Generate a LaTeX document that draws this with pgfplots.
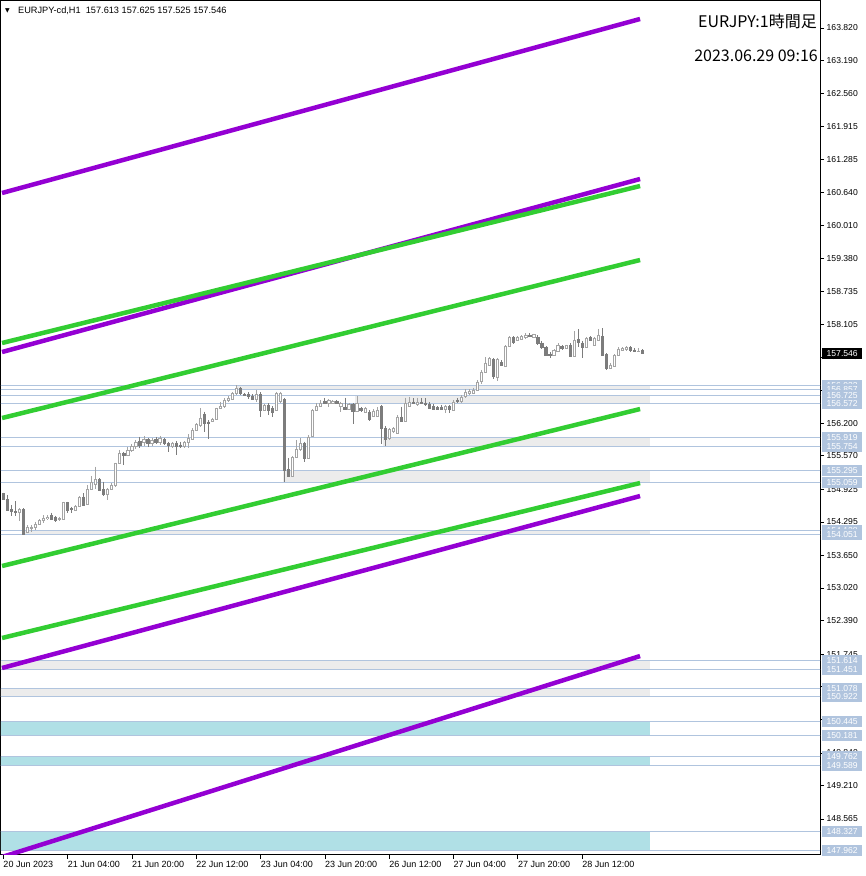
\documentclass[border=0pt]{standalone}
\usepackage{pgfplots}
\pgfplotsset{compat=1.18}
\usepackage{pgfplotstable}
\usepackage{fontspec}
\setmainfont{Liberation Sans}
\newfontfamily\jp{Noto Sans CJK JP}
\newfontfamily\dv{DejaVu Sans}
\definecolor{bullc}{HTML}{A4A4A4}
\definecolor{bearc}{HTML}{7C7C7C}
\definecolor{zgray}{HTML}{ECECEC}
\definecolor{zblue}{HTML}{B0E0E6}
\definecolor{lsb}{HTML}{B0C4DE}
\definecolor{dviolet}{HTML}{9400D3}
\definecolor{lgreen}{HTML}{32CD32}

\pgfplotstableread{
x o h l c
4 154.472 154.557 154.318 154.537
6 154.087 154.229 154.075 154.190
7 154.177 154.235 154.106 154.202
8 154.182 154.298 154.139 154.254
9 154.248 154.350 154.235 154.331
10 154.331 154.428 154.279 154.375
11 154.364 154.428 154.331 154.395
14 154.345 154.395 154.312 154.364
15 154.345 154.684 154.331 154.678
18 154.524 154.621 154.510 154.601
19 154.588 154.794 154.576 154.775
21 154.634 155.007 154.621 154.924
22 154.924 155.180 154.910 155.070
23 155.020 155.360 154.924 155.117
26 154.819 154.943 154.717 154.924
27 154.924 155.039 154.910 155.013
28 154.993 155.437 154.974 155.425
29 155.425 155.682 155.412 155.618
31 155.585 155.740 155.566 155.682
32 155.663 155.798 155.643 155.759
33 155.740 155.875 155.701 155.836
35 155.817 155.952 155.759 155.894
37 155.798 155.914 155.759 155.875
39 155.836 155.952 155.778 155.914
42 155.746 155.842 155.727 155.823
45 155.746 155.856 155.714 155.842
46 155.831 155.985 155.714 155.908
47 155.894 156.100 155.881 156.067
48 156.067 156.197 156.048 156.177
49 156.145 156.486 156.131 156.305
52 156.227 156.305 156.216 156.280
53 156.274 156.498 156.260 156.486
54 156.486 156.613 156.467 156.530
55 156.530 156.685 156.492 156.646
56 156.627 156.723 156.607 156.690
57 156.665 156.800 156.646 156.775
58 156.762 156.933 156.742 156.883
63 156.665 156.839 156.613 156.756
65 156.453 156.569 156.434 156.550
68 156.453 156.806 156.434 156.775
69 156.613 156.806 156.588 156.787
72 155.180 155.566 155.161 155.541
73 155.541 155.875 155.528 155.701
74 155.682 155.908 155.663 155.811
76 155.521 155.971 155.508 155.938
77 155.938 156.472 155.933 156.453
78 156.440 156.582 156.434 156.530
79 156.530 156.646 156.511 156.594
81 156.582 156.660 156.517 156.646
82 156.582 156.646 156.569 156.627
84 156.517 156.613 156.420 156.582
86 156.467 156.588 156.453 156.563
88 156.420 156.725 156.415 156.582
90 156.401 156.511 156.395 156.486
92 156.324 156.472 156.318 156.440
93 156.324 156.511 156.318 156.453
96 155.908 156.106 155.875 156.081
97 156.035 156.125 156.010 156.100
98 156.004 156.357 155.990 156.324
100 156.227 156.690 156.222 156.582
101 156.530 156.710 156.511 156.613
103 156.550 156.685 156.530 156.613
110 156.467 156.550 156.390 156.530
112 156.453 156.646 156.434 156.613
114 156.613 156.742 156.588 156.710
115 156.710 156.852 156.685 156.806
116 156.762 156.858 156.742 156.826
117 156.775 156.878 156.762 156.839
118 156.839 157.032 156.820 157.000
119 157.000 157.225 156.955 157.192
120 157.186 157.476 157.167 157.366
121 157.321 157.476 157.302 157.456
123 157.084 157.456 157.013 157.437
125 157.296 157.706 157.280 157.687
126 157.687 157.880 157.668 157.860
128 157.797 157.880 157.784 157.860
129 157.816 157.899 157.803 157.874
130 157.842 157.938 157.822 157.905
132 157.861 157.928 157.842 157.913
137 157.514 157.629 157.494 157.604
138 157.585 157.739 157.571 157.700
140 157.648 157.716 157.629 157.700
142 157.489 157.970 157.476 157.797
145 157.668 157.861 157.648 157.842
147 157.700 157.870 157.687 157.842
148 157.797 158.020 157.784 157.905
151 157.263 157.360 157.244 157.327
152 157.301 157.533 157.282 157.514
153 157.514 157.668 157.494 157.635
154 157.604 157.668 157.591 157.648
155 157.623 157.687 157.591 157.668
158 157.585 157.649 157.571 157.600
}\bull

\pgfplotstableread{
x o h l c
0 154.846 154.858 154.717 154.731
1 154.731 154.814 154.505 154.524
2 154.537 154.621 154.414 154.491
3 154.505 154.698 154.408 154.472
5 154.537 154.557 154.045 154.060
12 154.428 154.472 154.331 154.350
13 154.395 154.414 154.298 154.318
16 154.678 154.684 154.460 154.524
17 154.557 154.588 154.460 154.537
20 154.781 154.846 154.607 154.621
24 155.123 155.136 154.897 154.910
25 154.929 155.070 154.800 154.819
30 155.618 155.649 155.392 155.585
34 155.856 155.933 155.721 155.778
36 155.894 155.914 155.740 155.798
38 155.894 155.933 155.798 155.836
40 155.889 155.908 155.778 155.798
41 155.817 155.842 155.638 155.765
43 155.823 155.856 155.585 155.759
44 155.784 155.842 155.727 155.759
50 156.370 156.421 156.023 156.197
51 156.227 156.260 155.889 156.197
59 156.872 156.897 156.742 156.762
60 156.762 156.787 156.714 156.729
61 156.756 156.800 156.665 156.710
62 156.723 156.752 156.646 156.665
64 156.756 156.800 156.324 156.453
66 156.550 156.588 156.357 156.453
67 156.486 156.530 156.324 156.409
70 156.665 156.685 155.059 155.296
71 155.310 155.528 155.161 155.180
75 155.823 155.842 155.456 155.521
80 156.627 156.685 156.569 156.582
83 156.627 156.646 156.569 156.582
85 156.517 156.690 156.453 156.467
87 156.563 156.588 156.177 156.420
89 156.486 156.511 156.415 156.440
91 156.420 156.453 156.247 156.274
94 156.536 156.550 155.800 156.100
95 156.100 156.145 155.754 155.889
99 156.324 156.517 156.212 156.227
102 156.613 156.679 156.569 156.582
104 156.613 156.685 156.569 156.582
105 156.594 156.685 156.530 156.550
106 156.563 156.607 156.472 156.486
107 156.530 156.569 156.453 156.467
108 156.505 156.530 156.444 156.467
109 156.517 156.550 156.453 156.467
111 156.536 156.550 156.390 156.467
113 156.646 156.685 156.588 156.613
122 157.431 157.456 157.051 157.103
124 157.379 157.417 157.302 157.321
127 157.860 157.880 157.726 157.751
131 157.905 157.938 157.861 157.874
133 157.861 157.899 157.707 157.732
134 157.751 157.784 157.630 157.655
135 157.668 157.687 157.494 157.514
136 157.540 157.571 157.456 157.514
139 157.681 157.706 157.610 157.635
141 157.713 157.739 157.476 157.489
143 157.816 158.009 157.668 157.751
144 157.751 157.784 157.455 157.668
146 157.861 157.880 157.784 157.797
149 157.880 158.034 157.494 157.514
150 157.526 157.552 157.225 157.256
156 157.668 157.687 157.571 157.604
157 157.616 157.649 157.571 157.585
159 157.613 157.625 157.525 157.546
}\bear

\begin{document}
\begin{tikzpicture}
\begin{axis}[
  at={(1pt,21pt)}, anchor=south west, scale only axis,
  width=819pt, height=854pt,
  xmin=-0.572, xmax=203.16, ymin=147.871, ymax=164.341,
  axis line style={black, line width=1pt},
  tick align=outside, major tick length=4pt,
  tick style={black, line width=0.8pt},
  ytick pos=right, yticklabel pos=right,
  xtick pos=left, xticklabel pos=left,
  scaled y ticks=false, scaled x ticks=false,
  ytick={163.820,163.190,162.560,161.915,161.285,160.640,160.010,159.380,158.735,158.105,157.475,156.830,156.200,155.570,154.925,154.295,153.650,153.020,152.390,151.745,151.115,150.485,149.840,149.210,148.565},
  yticklabels={163.820,163.190,162.560,161.915,161.285,160.640,160.010,159.380,158.735,158.105,157.475,156.830,156.200,155.570,154.925,154.295,153.650,153.020,152.390,151.745,151.115,150.485,149.840,149.210,148.565},
  yticklabel style={font=\fontsize{8.6}{9}\selectfont, anchor=west, inner sep=0pt, xshift=2.5pt},
  xtick={0,16,32,48,64,80,96,112,128,144},
  xticklabels={20 Jun 2023,21 Jun 04:00,21 Jun 20:00,22 Jun 12:00,23 Jun 04:00,23 Jun 20:00,26 Jun 12:00,27 Jun 04:00,27 Jun 20:00,28 Jun 12:00},
  xticklabel style={font=\fontsize{9}{10}\selectfont, anchor=north west, inner sep=0pt, yshift=-2pt},
  candle/.style={draw=none, mark=none, forget plot, error bars/.cd, y dir=minus, y explicit, error mark=none},
]
% zones
\addplot[draw=none, fill=zgray, forget plot] coordinates {(58,156.857) (160.9,156.857) (160.9,156.933) (58,156.933)};
\addplot[draw=none, fill=zgray, forget plot] coordinates {(87.5,156.572) (160.9,156.572) (160.9,156.725) (87.5,156.725)};
\addplot[draw=none, fill=zgray, forget plot] coordinates {(94.5,155.754) (160.9,155.754) (160.9,155.919) (94.5,155.919)};
\addplot[draw=none, fill=zgray, forget plot] coordinates {(69.6,155.059) (160.9,155.059) (160.9,155.295) (69.6,155.295)};
\addplot[draw=none, fill=zgray, forget plot] coordinates {(4.9,154.051) (160.9,154.051) (160.9,154.128) (4.9,154.128)};
\addplot[draw=none, fill=zgray, forget plot] coordinates {(-1,151.451) (160.9,151.451) (160.9,151.614) (-1,151.614)};
\addplot[draw=none, fill=zgray, forget plot] coordinates {(-1,150.922) (160.9,150.922) (160.9,151.078) (-1,151.078)};
\addplot[draw=none, fill=zblue, forget plot] coordinates {(-1,150.181) (160.9,150.181) (160.9,150.445) (-1,150.445)};
\addplot[draw=none, fill=zblue, forget plot] coordinates {(-1,149.589) (160.9,149.589) (160.9,149.762) (-1,149.762)};
\addplot[draw=none, fill=zblue, forget plot] coordinates {(-1,147.962) (160.9,147.962) (160.9,148.327) (-1,148.327)};
% support / resistance lines
\pgfplotsinvokeforeach{156.933,156.857,156.725,156.572,155.919,155.754,155.295,155.059,154.128,154.051,151.614,151.451,151.078,150.922,150.445,150.181,149.762,149.589,148.327,147.962}{
  \addplot[lsb, line width=1pt, forget plot] coordinates {(-1,#1) (205,#1)};
}
% channel lines
\addplot[dviolet, line width=4.5pt, forget plot] coordinates {(-0.32,160.638) (158.4,163.994)};
\addplot[dviolet, line width=4.5pt, forget plot] coordinates {(-0.32,157.571) (158.4,160.908)};
\addplot[dviolet, line width=4.5pt, forget plot] coordinates {(-0.32,151.477) (158.4,154.794)};
\addplot[dviolet, line width=4.5pt, forget plot] coordinates {(-0.32,147.832) (158.4,151.708)};
\addplot[lgreen, line width=4.5pt, forget plot] coordinates {(-0.32,157.745) (158.4,160.773)};
\addplot[lgreen, line width=4.5pt, forget plot] coordinates {(-0.32,156.298) (158.4,159.346)};
\addplot[lgreen, line width=4.5pt, forget plot] coordinates {(-0.32,153.444) (158.4,156.472)};
\addplot[lgreen, line width=4.5pt, forget plot] coordinates {(-0.32,152.056) (158.4,155.045)};
% candles: wicks
\addplot[candle, error bar style={draw=bullc, line width=1pt}]
  table[x=x, y=h, y error expr=\thisrow{h}-\thisrow{l}] {\bull};
\addplot[candle, error bar style={draw=bearc, line width=1pt}]
  table[x=x, y=h, y error expr=\thisrow{h}-\thisrow{l}] {\bear};
% bodies
\addplot[candle, error bar style={draw=bullc, line width=3.2pt}]
  table[x=x, y=c, y error expr=\thisrow{c}-\thisrow{o}+0.01] {\bull};
\addplot[candle, error bar style={draw=white, line width=1.2pt}]
  table[x=x, y expr=\thisrow{c}-0.0193, y error expr={max(\thisrow{c}-\thisrow{o}-0.0286,0)}] {\bull};
\addplot[candle, error bar style={draw=bearc, line width=3.2pt}]
  table[x=x, y=o, y error expr=\thisrow{o}-\thisrow{c}+0.01] {\bear};
% label anchors
\coordinate (r1) at (axis cs:203.66,156.933);
\coordinate (r2) at (axis cs:203.66,156.857);
\coordinate (r3) at (axis cs:203.66,156.725);
\coordinate (r4) at (axis cs:203.66,156.572);
\coordinate (r5) at (axis cs:203.66,155.919);
\coordinate (r6) at (axis cs:203.66,155.754);
\coordinate (r7) at (axis cs:203.66,155.295);
\coordinate (r8) at (axis cs:203.66,155.059);
\coordinate (r9) at (axis cs:203.66,154.128);
\coordinate (r10) at (axis cs:203.66,154.051);
\coordinate (r11) at (axis cs:203.66,151.614);
\coordinate (r12) at (axis cs:203.66,151.451);
\coordinate (r13) at (axis cs:203.66,151.078);
\coordinate (r14) at (axis cs:203.66,150.922);
\coordinate (r15) at (axis cs:203.66,150.445);
\coordinate (r16) at (axis cs:203.66,150.181);
\coordinate (r17) at (axis cs:203.66,149.762);
\coordinate (r18) at (axis cs:203.66,149.589);
\coordinate (r19) at (axis cs:203.66,148.327);
\coordinate (r20) at (axis cs:203.66,147.962);
\coordinate (cur) at (axis cs:203.66,157.546);
\end{axis}
\tikzset{lbl/.style={anchor=west, fill=lsb, text=white, minimum width=40pt, minimum height=11pt, inner sep=0pt, font=\fontsize{8.6}{9}\selectfont}}
\node[lbl] at (r1) {156.933};
\node[lbl] at (r2) {156.857};
\node[lbl] at (r3) {156.725};
\node[lbl] at (r4) {156.572};
\node[lbl] at (r5) {155.919};
\node[lbl] at (r6) {155.754};
\node[lbl] at (r7) {155.295};
\node[lbl] at (r8) {155.059};
\node[lbl] at (r9) {154.128};
\node[lbl] at (r10) {154.051};
\node[lbl] at (r11) {151.614};
\node[lbl] at (r12) {151.451};
\node[lbl] at (r13) {151.078};
\node[lbl] at (r14) {150.922};
\node[lbl] at (r15) {150.445};
\node[lbl] at (r16) {150.181};
\node[lbl] at (r17) {149.762};
\node[lbl] at (r18) {149.589};
\node[lbl] at (r19) {148.327};
\node[lbl] at (r20) {147.962};
\node[lbl, fill=black] at (cur) {157.546};
% header texts
\node[anchor=base west, inner sep=0pt, font=\dv\fontsize{6}{6}\selectfont] at (5pt,863pt) {▼};
\node[anchor=base west, inner sep=0pt, font=\fontsize{9.2}{10}\selectfont] at (18pt,862pt) {EURJPY-cd,H1\ \ 157.613 157.625 157.525 157.546};
\node[anchor=base east, inner sep=0pt, font=\jp\fontsize{16}{18}\selectfont] at (817pt,848pt) {EURJPY:1時間足};
\node[anchor=base east, inner sep=0pt, font=\jp\fontsize{16}{18}\selectfont] at (818pt,814pt) {2023.06.29 09:16};
\pgfresetboundingbox
\path[use as bounding box] (0,0) rectangle (866pt,876pt);
\end{tikzpicture}
\end{document}
